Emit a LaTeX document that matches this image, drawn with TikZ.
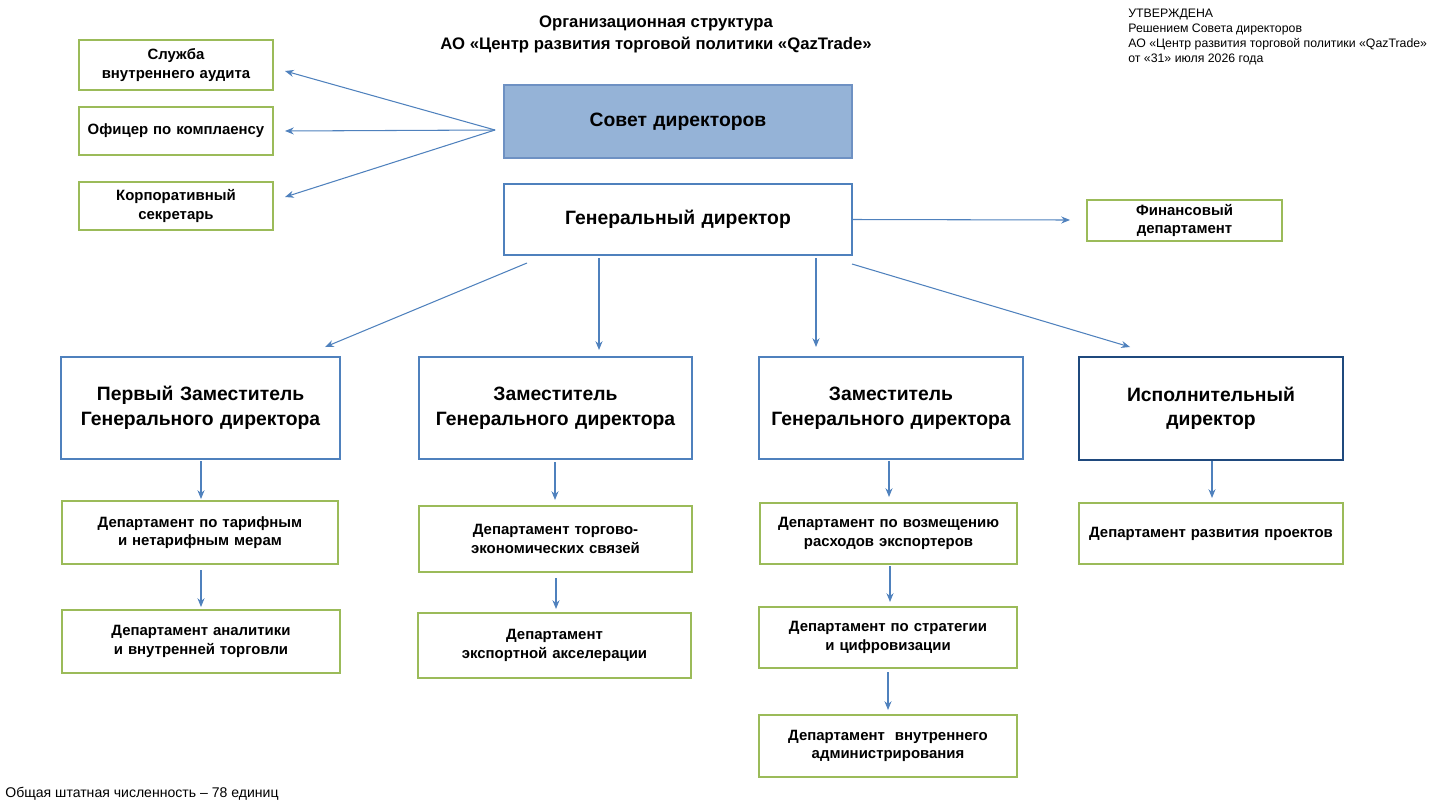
\documentclass[tikz,border=0pt]{standalone}
\usepackage{fontspec}
\setmainfont{Liberation Sans}
\usetikzlibrary{arrows.meta}
\definecolor{gborder}{RGB}{155,187,89}
\definecolor{bborder}{RGB}{79,129,189}
\definecolor{sfill}{RGB}{149,179,215}
\definecolor{sborder}{RGB}{110,145,195}
\definecolor{dborder}{RGB}{31,73,125}
\definecolor{arr}{RGB}{79,129,189}
\tikzset{
  base/.style={draw, line width=1.1pt, align=center, inner sep=1pt, font=\bfseries},
  gbox/.style={base, draw=gborder, font=\fontsize{8.5}{10.5}\selectfont\bfseries},
  bbox/.style={base, draw=bborder, font=\fontsize{11}{14}\selectfont\bfseries},
  dbox/.style={bbox, draw=dborder},
  sbox/.style={bbox, draw=sborder, fill=sfill},
  con/.style={draw=arr, line width=0.6pt, -{Stealth[length=5pt,width=4pt]}},
  small/.style={font=\fontsize{7}{8.4}\selectfont, align=left, anchor=north west, inner sep=0pt},
}
\newcommand{\orgbox}[7]{\node[#6, minimum width={(#4-#2)*0.02cm}, minimum height={(#5-#3)*0.02cm}, text width={(#4-#2)*0.02cm-8pt}] (#1) at ({(#2+#4)/2},{(#3+#5)/2}) {#7};}
\begin{document}
\begin{tikzpicture}[x=0.02cm,y=-0.02cm]
\useasboundingbox (0,0) rectangle (1435,805);
\node[font=\fontsize{9.5}{12.5}\selectfont\bfseries, align=center] (title) at (656,34) {Организационная структура\\АО «Центр развития торговой политики «QazTrade»};
\node[small] (appr) at (1128,9) {УТВЕРЖДЕНА\\Решением Совета директоров\\АО «Центр развития торговой политики «QazTrade»\\от «31» июля 2026 года};
\node[font=\fontsize{8}{10}\selectfont, anchor=west, inner sep=0pt] (total) at (5,794) {Общая штатная численность – 78 единиц};

\orgbox{audit}{79}{40}{273}{90}{gbox}{Служба внутреннего аудита}
\orgbox{off}{79}{107}{273}{155}{gbox}{Офицер по комплаенсу}
\orgbox{sec}{79}{182}{273}{230}{gbox}{Корпоративный секретарь}
\orgbox{sovet}{504}{85}{852}{158}{sbox}{Совет директоров}
\orgbox{gd}{504}{184}{852}{255}{bbox}{Генеральный директор}
\orgbox{fin}{1087}{200}{1282}{241}{gbox}{Финансовый департамент}
\orgbox{d1}{61}{357}{340}{459}{bbox}{Первый Заместитель Генерального директора}
\orgbox{d2}{419}{357}{692}{459}{bbox}{Заместитель Генерального директора}
\orgbox{d3}{759}{357}{1023}{459}{bbox}{Заместитель Генерального директора}
\orgbox{d4}{1079}{357}{1343}{460}{dbox}{Исполнительный директор}
\orgbox{p11}{62}{501}{338}{564}{gbox}{Департамент по тарифным и нетарифным мерам}
\orgbox{p12}{62}{610}{340}{673}{gbox}{Департамент аналитики и внутренней торговли}
\orgbox{p21}{419}{506}{692}{572}{gbox}{Департамент торгово-экономических связей}
\orgbox{p22}{418}{613}{691}{678}{gbox}{Департамент экспортной акселерации}
\orgbox{p31}{760}{503}{1017}{564}{gbox}{Департамент по возмещению расходов экспортеров}
\orgbox{p32}{759}{607}{1017}{668}{gbox}{Департамент по стратегии и цифровизации}
\orgbox{p33}{759}{715}{1017}{777}{gbox}{Департамент\ \ внутреннего администрирования}
\orgbox{p41}{1079}{503}{1343}{564}{gbox}{Департамент развития проектов}

\coordinate (hub) at (495,130);
\draw[con] (hub) -- (285,71);
\draw[con] (hub) -- (285,131);
\draw[con] (hub) -- (285,197);
\draw[con] (gd.east) -- (1070,220);
\draw[con] (527,263) -- (325,347);
\draw[con] (599,258) -- (599,350);
\draw[con] (816,258) -- (816,347);
\draw[con] (852,264) -- (1130,347);
\draw[con] (201,461) -- (201,499);
\draw[con] (201,570) -- (201,607);
\draw[con] (555,462) -- (555,500);
\draw[con] (556,578) -- (556,609);
\draw[con] (889,461) -- (889,497);
\draw[con] (890,566) -- (890,602);
\draw[con] (888,672) -- (888,710);
\draw[con] (1212,461) -- (1212,498);
\end{tikzpicture}
\end{document}
